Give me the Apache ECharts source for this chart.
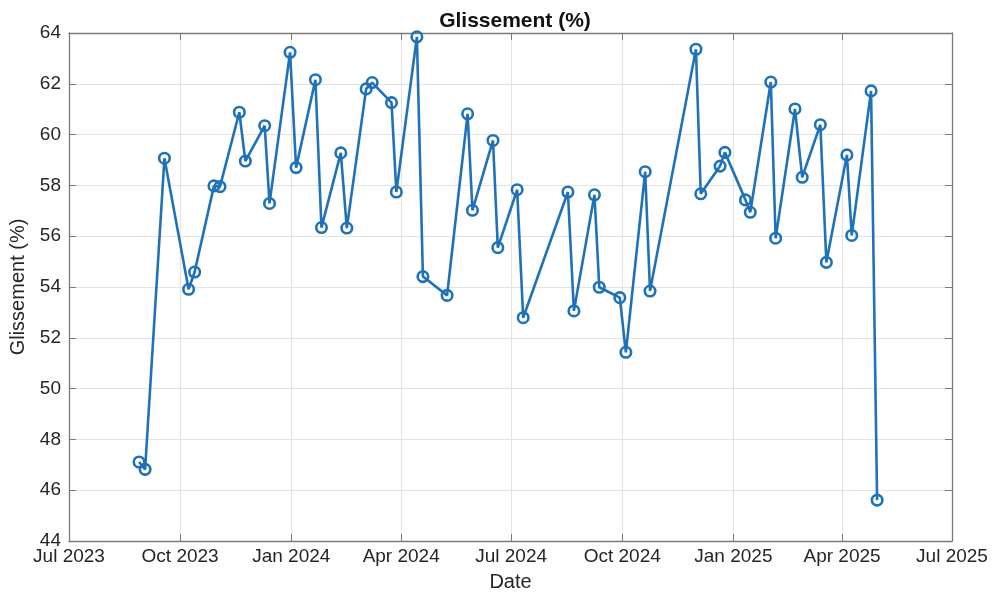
<!DOCTYPE html>
<html lang="fr">
<head>
    <meta charset="UTF-8">
    <title>Glissement (%)</title>
    <script src="https://cdn.jsdelivr.net/npm/echarts@6/dist/echarts.min.js"></script>
    <style>
        html, body { margin: 0; padding: 0; background: #fff; }
        #chart { width: 992px; height: 592px; }
    </style>
</head>
<body>
<div id="chart"></div>
<script>
    // data
    var dates = [
        '2023-08-28', '2023-09-02', '2023-09-18', '2023-10-08', '2023-10-13',
        '2023-10-29', '2023-11-03', '2023-11-19', '2023-11-24', '2023-12-10',
        '2023-12-14', '2023-12-31', '2024-01-05', '2024-01-21', '2024-01-26',
        '2024-02-11', '2024-02-16', '2024-03-03', '2024-03-08', '2024-03-24',
        '2024-03-28', '2024-04-14', '2024-04-19', '2024-05-09', '2024-05-26',
        '2024-05-30', '2024-06-16', '2024-06-20', '2024-07-06', '2024-07-11',
        '2024-08-17', '2024-08-22', '2024-09-08', '2024-09-12', '2024-09-29',
        '2024-10-04', '2024-10-20', '2024-10-24', '2024-12-01', '2024-12-05',
        '2024-12-21', '2024-12-25', '2025-01-11', '2025-01-15', '2025-02-01',
        '2025-02-05', '2025-02-21', '2025-02-27', '2025-03-14', '2025-03-19',
        '2025-04-05', '2025-04-09', '2025-04-25', '2025-04-30'
    ];
    var glissement = [
        47.11, 46.82, 59.07, 53.91, 54.59,
        57.98, 57.95, 60.88, 58.96, 60.35,
        57.29, 63.24, 58.70, 62.16, 56.34,
        59.28, 56.32, 61.80, 62.05, 61.26,
        57.74, 63.85, 54.41, 53.67, 60.82,
        57.02, 59.77, 55.55, 57.83, 52.79,
        57.74, 53.06, 57.63, 53.99, 53.58,
        51.43, 58.54, 53.84, 63.36, 57.67,
        58.76, 59.30, 57.43, 56.94, 62.07,
        55.92, 61.01, 58.32, 60.39, 54.97,
        59.20, 56.03, 61.72, 45.61
    ];
    var monthNames = ['Jan', 'Feb', 'Mar', 'Apr', 'May', 'Jun', 'Jul', 'Aug', 'Sep', 'Oct', 'Nov', 'Dec'];
    var xMin = new Date(2023, 6, 1).getTime();
    var xMax = new Date(2025, 6, 1).getTime();

    var points = [];
    for (var i = 0; i < dates.length; i++) {
        points.push([dates[i], glissement[i]]);
    }

    var txt = '#262626';
    var axisCol = '#7a7a7a';
    var gridCol = '#e3e3e3';
    var blue = '#1f72b8';
    var font = 'Liberation Sans, Arial, sans-serif';

    var chart = echarts.init(document.getElementById('chart'));
    var option = {
        animation: false,
        backgroundColor: '#fff',
        title: {
            text: 'Glissement (%)',
            left: 510, top: 6, textAlign: 'center',
            textStyle: { fontFamily: font, fontSize: 21, fontWeight: 'bold', color: '#111' }
        },
        grid: { left: 69, right: 40, top: 33, bottom: 51, outerBoundsMode: 'none' },
        xAxis: [{
            type: 'time',
            min: xMin, max: xMax,
            splitNumber: 8,
            name: 'Date', nameLocation: 'middle', nameGap: 31,
            nameTextStyle: { fontFamily: font, fontSize: 20, color: txt },
            axisLine: { show: true, lineStyle: { color: axisCol, width: 1.3 } },
            axisTick: { show: true, inside: true, length: 7, lineStyle: { color: axisCol } },
            minorTick: { show: false },
            axisLabel: {
                fontFamily: font, fontSize: 19, color: txt, margin: 6,
                showMinLabel: true, showMaxLabel: true,
                formatter: function (v) {
                    var d = new Date(v);
                    return monthNames[d.getMonth()] + ' ' + d.getFullYear();
                }
            },
            splitLine: { show: true, lineStyle: { color: gridCol, width: 1 } }
        }, {
            type: 'time', position: 'top',
            min: xMin, max: xMax, splitNumber: 8,
            axisLine: { show: true, lineStyle: { color: axisCol, width: 1.3 } },
            axisTick: { show: true, inside: true, length: 7, lineStyle: { color: axisCol } },
            axisLabel: { show: false },
            splitLine: { show: false }
        }],
        yAxis: [{
            type: 'value',
            min: 44, max: 64, interval: 2,
            name: 'Glissement (%)', nameLocation: 'middle', nameGap: 36,
            nameTextStyle: { fontFamily: font, fontSize: 20, color: txt },
            axisLine: { show: true, lineStyle: { color: axisCol, width: 1.3 } },
            axisTick: { show: true, inside: true, length: 7, lineStyle: { color: axisCol } },
            axisLabel: { fontFamily: font, fontSize: 19, color: txt, margin: 8 },
            splitLine: { show: true, lineStyle: { color: gridCol, width: 1 } }
        }, {
            type: 'value', position: 'right',
            min: 44, max: 64, interval: 2,
            axisLine: { show: true, lineStyle: { color: axisCol, width: 1.3 } },
            axisTick: { show: true, inside: true, length: 7, lineStyle: { color: axisCol } },
            axisLabel: { show: false },
            splitLine: { show: false }
        }],
        series: [{
            name: 'Glissement (%)',
            type: 'line',
            data: points,
            symbol: 'circle',
            symbolSize: 10.5,
            showAllSymbol: true,
            lineStyle: { color: blue, width: 2.6 },
            itemStyle: { color: 'rgba(0,0,0,0)', borderColor: blue, borderWidth: 2.6 }
        }]
    };
    option && chart.setOption(option);
</script>
</body>
</html>
